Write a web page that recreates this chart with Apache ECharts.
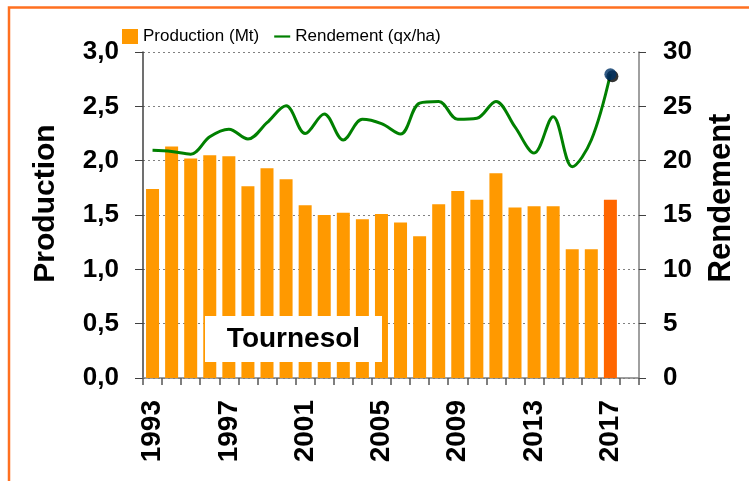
<!DOCTYPE html>
<html>
<head>
<meta charset="utf-8">
<script src="https://cdn.jsdelivr.net/npm/echarts@6/dist/echarts.min.js"></script>
<style>
html,body{margin:0;padding:0;background:#fff;}
#chart{width:749px;height:481px;}
</style>
</head>
<body>
<div id="chart"></div>
<script>
const years = ['1993','1994','1995','1996','1997','1998','1999','2000','2001','2002','2003','2004','2005','2006','2007','2008','2009','2010','2011','2012','2013','2014','2015','2016','2017','2018'];
const production = [1.74,2.13,2.02,2.05,2.04,1.765,1.93,1.83,1.59,1.50,1.52,1.46,1.51,1.43,1.305,1.60,1.72,1.64,1.885,1.57,1.58,1.58,1.185,1.185,1.64,null];
const rendement = [20.95,20.85,20.6,22.2,22.9,22.0,23.5,25.05,22.5,24.3,21.9,23.8,23.4,22.45,25.3,25.45,23.8,23.9,25.45,23.1,20.7,24.05,19.45,21.9,27.95,null];
const highlightYear = '2017';
const seriesNames = ['Production (Mt)', 'Rendement (qx/ha)'];
const leftTicks = {min: 0, max: 3, interval: 0.5};
const rightTicks = {min: 0, max: 30, interval: 5};
const cropName = 'Tournesol';

const FONT = 'Liberation Sans, Arial, sans-serif';
const hiIdx = years.indexOf(highlightYear);

const barData = production.map((v, i) => i === hiIdx ? {value: v, itemStyle: {color: '#FF6600'}} : v);
const dotData = rendement.map((v, i) => i === hiIdx ? v : '-');

const chart = echarts.init(document.getElementById('chart'), null, {renderer: 'canvas'});
chart.setOption({
  animation: false,
  backgroundColor: '#ffffff',
  textStyle: {fontFamily: FONT},
  legend: {
    left: 117, top: 23,
    itemWidth: 16, itemHeight: 15, itemGap: 15,
    textStyle: {fontSize: 17, color: '#000', fontFamily: FONT},
    data: [
      {name: seriesNames[0], icon: 'rect'},
      {name: seriesNames[1], icon: 'path://M0,0 L16,0 L16,2.2 L0,2.2 Z', itemStyle: {color: '#008000'}}
    ]
  },
  grid: {left: 143, right: 110, top: 52, bottom: 103},
  xAxis: {
    type: 'category',
    data: years,
    boundaryGap: true,
    axisLine: {lineStyle: {color: '#808080', width: 1.5}},
    axisTick: {show: true, interval: 0, length: 7, lineStyle: {color: '#555', width: 1.5}},
    axisLabel: {interval: 3, rotate: 90, margin: 22, fontSize: 28, fontWeight: 'bold', color: '#000', fontFamily: FONT}
  },
  yAxis: [
    {
      type: 'value', min: leftTicks.min, max: leftTicks.max, interval: leftTicks.interval,
      name: 'Production', nameLocation: 'middle', nameGap: 82,
      nameTextStyle: {fontSize: 30, fontWeight: 'bold', color: '#000', fontFamily: FONT, padding: [0,0,0,23]},
      axisLine: {show: true, lineStyle: {color: '#404040', width: 1.5}},
      axisTick: {show: true, inside: false, length: 8, lineStyle: {color: '#404040'}},
      axisLabel: {margin: 24, fontSize: 26, fontWeight: 'bold', color: '#000', fontFamily: FONT,
        formatter: v => v.toFixed(1).replace('.', ',')},
      splitLine: {show: true, lineStyle: {color: '#808080', type: [2, 3], width: 1}}
    },
    {
      type: 'value', min: rightTicks.min, max: rightTicks.max, interval: rightTicks.interval,
      position: 'right',
      name: 'Rendement', nameLocation: 'middle', nameGap: 67, nameRotate: 90,
      nameTextStyle: {fontSize: 31, fontWeight: 'bold', color: '#000', fontFamily: FONT, padding: [0,0,0,34]},
      axisLine: {show: true, lineStyle: {color: '#808080', width: 1.5}},
      axisTick: {show: true, inside: false, length: 7, lineStyle: {color: '#404040'}},
      axisLabel: {margin: 24, fontSize: 26, fontWeight: 'bold', color: '#000', fontFamily: FONT},
      splitLine: {show: false}
    }
  ],
  series: [
    {
      name: seriesNames[0], type: 'bar', yAxisIndex: 0,
      data: barData, barWidth: 13,
      itemStyle: {color: '#FF9900'}
    },
    {
      name: seriesNames[1], type: 'line', yAxisIndex: 1,
      data: rendement, smooth: 0.35, symbol: 'none',
      lineStyle: {color: '#008000', width: 3},
      itemStyle: {color: '#008000'}
    },
    {
      name: 'dot', type: 'scatter', yAxisIndex: 1,
      data: dotData, symbolSize: 12, z: 5,
      itemStyle: {color: '#003366', shadowColor: '#000', shadowBlur: 0, shadowOffsetX: 2, shadowOffsetY: 2}
    }
  ],
  graphic: [
    {type: 'rect', z: 100, zlevel: 1, silent: true, shape: {x: 9, y: 7.5, width: 800, height: 520},
      style: {fill: 'none', stroke: '#FF7020', lineWidth: 2.5}},
    {type: 'rect', z: 100, zlevel: 1, silent: true, shape: {x: 205, y: 316, width: 177, height: 46}, style: {fill: '#ffffff'}},
    {type: 'text', z: 101, zlevel: 1, silent: true, x: 293.5, y: 339,
      style: {text: cropName, fill: '#000', font: 'bold 28px ' + FONT, textAlign: 'center', textVerticalAlign: 'middle'}}
  ]
});
</script>
</body>
</html>
